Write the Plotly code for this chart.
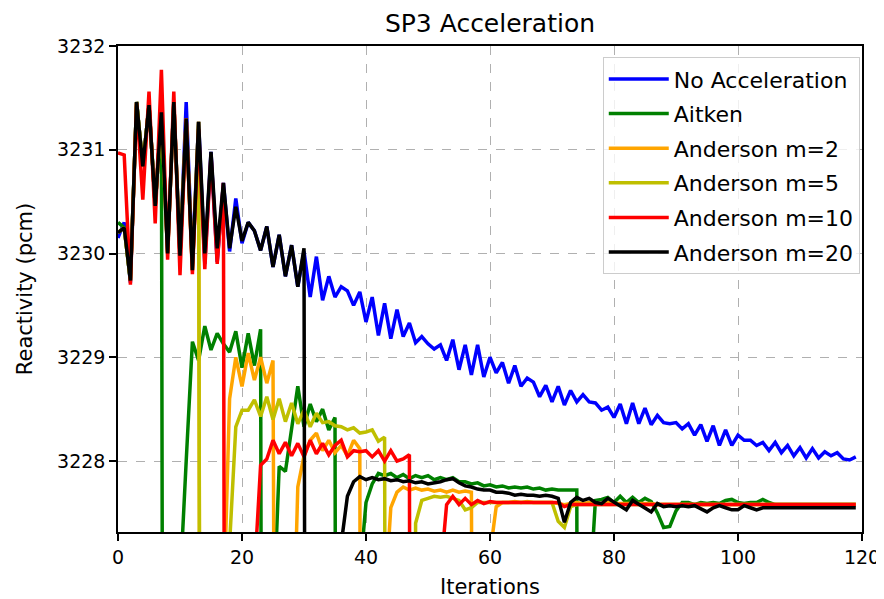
import plotly.graph_objects as go

iterations = list(range(120))

no_accel = [
    3230.15, 3230.30, 3229.72, 3231.46, 3230.84, 3231.43, 3230.46, 3231.38, 3230.02, 3231.46,
    3229.98, 3231.46, 3229.90, 3231.27, 3229.90, 3230.98, 3229.92, 3230.68, 3230.02, 3230.53,
    3230.10, 3230.30, 3230.22, 3230.03, 3230.26, 3229.87, 3230.18, 3229.78, 3230.08, 3229.68,
    3230.02, 3229.58, 3229.97, 3229.55, 3229.78, 3229.58, 3229.68, 3229.64, 3229.50, 3229.63,
    3229.34, 3229.58, 3229.21, 3229.52, 3229.18, 3229.46, 3229.20, 3229.33, 3229.14, 3229.20,
    3229.13, 3229.08, 3229.12, 3228.97, 3229.17, 3228.88, 3229.12, 3228.83, 3229.12, 3228.81,
    3229.00, 3228.85, 3228.95, 3228.75, 3228.92, 3228.72, 3228.80, 3228.76, 3228.62, 3228.73,
    3228.57, 3228.72, 3228.54, 3228.68, 3228.57, 3228.64, 3228.57, 3228.56, 3228.49, 3228.52,
    3228.42, 3228.55, 3228.36, 3228.56, 3228.36, 3228.51, 3228.35, 3228.44, 3228.37, 3228.36,
    3228.37, 3228.31, 3228.36, 3228.25, 3228.35, 3228.19, 3228.34, 3228.15, 3228.30, 3228.15,
    3228.25, 3228.20, 3228.20, 3228.15, 3228.18, 3228.10, 3228.18, 3228.08, 3228.15, 3228.05,
    3228.13, 3228.03, 3228.12, 3228.03, 3228.09, 3228.05, 3228.08, 3228.02, 3228.01, 3228.04,
]

aitken = [
    3230.30, 3230.25, 3229.74, 3231.46, 3230.84, 3231.43, 3230.46, 3231.36, 3200.00, 3200.00,
    3226.80, 3228.00, 3229.15, 3228.97, 3229.30, 3229.07, 3229.23, 3229.13, 3229.05, 3229.25,
    3228.90, 3229.23, 3228.92, 3229.27, 3200.00, 3226.40, 3227.95, 3227.90, 3228.30, 3228.72,
    3228.33, 3228.55, 3228.38, 3228.50, 3228.30, 3228.42, 3200.00, 3200.00, 3200.00, 3226.90,
    3227.60, 3227.78, 3227.88, 3227.86, 3227.88, 3227.84, 3227.87, 3227.83, 3227.86, 3227.84,
    3227.86, 3227.82, 3227.84, 3227.82, 3227.84, 3227.80, 3227.80, 3227.78, 3227.79, 3227.76,
    3227.77, 3227.75, 3227.76, 3227.74, 3227.75, 3227.74, 3227.75, 3227.73, 3227.74, 3227.72,
    3227.73, 3227.72, 3227.72, 3227.72, 3227.72, 3200.00, 3226.62, 3227.62, 3227.63, 3227.65,
    3227.60, 3227.66, 3227.60, 3227.65, 3227.60, 3227.64, 3227.61, 3227.50, 3227.36, 3227.37,
    3227.52, 3227.60, 3227.60, 3227.58, 3227.60, 3227.59, 3227.60, 3227.59, 3227.62, 3227.63,
    3227.60, 3227.59, 3227.60, 3227.60, 3227.63, 3227.60, 3227.58, 3227.58, 3227.58, 3227.58,
    3227.58, 3227.58, 3227.58, 3227.58, 3227.58, 3227.58, 3227.58, 3227.58, 3227.58, 3227.58,
]

anderson_m2 = [
    3230.20, 3230.25, 3229.74, 3231.46, 3230.84, 3231.43, 3230.46, 3231.36, 3230.00, 3231.46,
    3229.98, 3231.30, 3229.84, 3231.27, 3200.00, 3200.00, 3200.00, 3226.50, 3228.60, 3229.00,
    3228.72, 3229.04, 3228.78, 3229.00, 3228.75, 3228.97, 3200.00, 3200.00, 3225.60, 3227.75,
    3228.05, 3228.20, 3228.27, 3228.10, 3228.20, 3228.08, 3228.15, 3228.05, 3228.20, 3228.12,
    3200.00, 3200.00, 3200.00, 3226.60, 3227.55, 3227.70, 3227.75, 3227.72, 3227.74, 3227.72,
    3227.73, 3227.71, 3227.72, 3227.70, 3227.72, 3227.70, 3227.71, 3227.70, 3200.00, 3200.00,
    3227.10, 3227.56, 3227.60, 3227.60, 3227.61, 3227.60, 3227.61, 3227.60, 3227.60, 3227.60,
    3227.60, 3227.59, 3227.58, 3227.59, 3227.60, 3227.59, 3227.60, 3227.59, 3227.59, 3227.60,
    3227.59, 3227.59, 3227.59, 3227.59, 3227.59, 3227.59, 3227.59, 3227.58, 3227.58, 3227.58,
    3227.58, 3227.58, 3227.58, 3227.58, 3227.58, 3227.58, 3227.58, 3227.58, 3227.58, 3227.58,
    3227.58, 3227.58, 3227.58, 3227.58, 3227.58, 3227.58, 3227.58, 3227.58, 3227.58, 3227.58,
    3227.58, 3227.58, 3227.58, 3227.58, 3227.58, 3227.58, 3227.58, 3227.58, 3227.58, 3227.58,
]

anderson_m5 = [
    3230.20, 3230.25, 3229.74, 3231.46, 3230.84, 3231.43, 3230.46, 3231.36, 3230.00, 3231.46,
    3229.98, 3231.30, 3229.84, 3231.27, 3200.00, 3200.00, 3200.00, 3200.00, 3227.20, 3228.33,
    3228.49, 3228.49, 3228.59, 3228.43, 3228.62, 3228.40, 3228.60, 3228.38, 3228.56, 3228.36,
    3228.49, 3228.33, 3228.46, 3228.37, 3228.38, 3228.34, 3228.33, 3228.30, 3228.32, 3228.27,
    3228.28, 3228.30, 3228.19, 3228.23, 3200.00, 3200.00, 3200.00, 3200.00, 3227.40, 3227.62,
    3227.64, 3227.66, 3227.65, 3227.66, 3227.64, 3227.62, 3227.53, 3227.55, 3227.60, 3227.60,
    3227.60, 3227.60, 3227.60, 3227.60, 3227.60, 3227.60, 3227.60, 3227.60, 3227.60, 3227.60,
    3227.60, 3227.42, 3227.36, 3227.56, 3227.58, 3227.58, 3227.58, 3227.58, 3227.58, 3227.58,
    3227.58, 3227.58, 3227.58, 3227.58, 3227.58, 3227.58, 3227.58, 3227.58, 3227.58, 3227.58,
    3227.58, 3227.58, 3227.58, 3227.58, 3227.58, 3227.58, 3227.58, 3227.58, 3227.58, 3227.58,
    3227.58, 3227.58, 3227.58, 3227.58, 3227.58, 3227.58, 3227.58, 3227.58, 3227.58, 3227.58,
    3227.58, 3227.58, 3227.58, 3227.58, 3227.58, 3227.58, 3227.58, 3227.58, 3227.58, 3227.58,
]

anderson_m10 = [
    3230.97, 3230.95, 3229.70, 3231.45, 3230.52, 3231.56, 3230.29, 3231.77, 3229.94, 3231.56,
    3229.79, 3231.30, 3229.80, 3231.20, 3229.85, 3230.95, 3229.90, 3230.68, 3200.00, 3200.00,
    3200.00, 3200.00, 3226.90, 3227.96, 3228.02, 3228.20, 3228.07, 3228.18, 3228.05, 3228.17,
    3228.04, 3228.20, 3228.07, 3228.17, 3228.06, 3228.15, 3228.20, 3228.04, 3228.10, 3228.09,
    3228.10, 3228.04, 3228.10, 3228.00, 3228.10, 3228.00, 3228.02, 3228.06, 3200.00, 3200.00,
    3200.00, 3200.00, 3226.90, 3227.58, 3227.66, 3227.58, 3227.64, 3227.58, 3227.62, 3227.59,
    3227.61, 3227.60, 3227.60, 3227.60, 3227.60, 3227.60, 3227.60, 3227.60, 3227.60, 3227.60,
    3227.60, 3227.60, 3227.56, 3227.58, 3227.58, 3227.58, 3227.58, 3227.58, 3227.58, 3227.58,
    3227.58, 3227.58, 3227.58, 3227.58, 3227.58, 3227.58, 3227.58, 3227.58, 3227.58, 3227.58,
    3227.58, 3227.58, 3227.58, 3227.58, 3227.58, 3227.58, 3227.58, 3227.58, 3227.58, 3227.58,
    3227.58, 3227.58, 3227.58, 3227.58, 3227.58, 3227.58, 3227.58, 3227.58, 3227.58, 3227.58,
    3227.58, 3227.58, 3227.58, 3227.58, 3227.58, 3227.58, 3227.58, 3227.58, 3227.58, 3227.58,
]

anderson_m20 = [
    3230.20, 3230.25, 3229.74, 3231.46, 3230.84, 3231.43, 3230.46, 3231.36, 3230.00, 3231.46,
    3229.98, 3231.30, 3229.84, 3231.27, 3230.00, 3230.98, 3230.05, 3230.68, 3230.05, 3230.45,
    3230.12, 3230.30, 3230.22, 3230.03, 3230.26, 3229.87, 3230.18, 3229.78, 3230.08, 3229.68,
    3230.05, 3200.00, 3200.00, 3200.00, 3200.00, 3200.00, 3227.20, 3227.66, 3227.80, 3227.85,
    3227.82, 3227.84, 3227.82, 3227.83, 3227.81, 3227.82, 3227.80, 3227.81, 3227.79, 3227.80,
    3227.78, 3227.79, 3227.80, 3227.82, 3227.83, 3227.79, 3227.76, 3227.75, 3227.73, 3227.72,
    3227.72, 3227.70, 3227.70, 3227.69, 3227.67, 3227.68, 3227.67, 3227.67, 3227.66, 3227.67,
    3227.66, 3227.64, 3227.41, 3227.60, 3227.65, 3227.62, 3227.64, 3227.60, 3227.59, 3227.64,
    3227.60, 3227.56, 3227.53, 3227.62, 3227.58, 3227.55, 3227.51, 3227.59, 3227.56, 3227.57,
    3227.56, 3227.57, 3227.56, 3227.57, 3227.54, 3227.51, 3227.55, 3227.57, 3227.55, 3227.53,
    3227.53, 3227.57, 3227.55, 3227.53, 3227.55, 3227.55, 3227.55, 3227.55, 3227.55, 3227.55,
    3227.55, 3227.55, 3227.55, 3227.55, 3227.55, 3227.55, 3227.55, 3227.55, 3227.55, 3227.55,
]

series_names = ["No Acceleration", "Aitken", "Anderson m=2", "Anderson m=5",
                "Anderson m=10", "Anderson m=20"]
series_values = [no_accel, aitken, anderson_m2, anderson_m5, anderson_m10, anderson_m20]
series_colors = ["#0000ff", "#008000", "#ffa500", "#bfbf00", "#ff0000", "#000000"]

x_ticks = [0, 20, 40, 60, 80, 100, 120]
y_ticks = [3228, 3229, 3230, 3231, 3232]
y_tick_labels = ["3228", "3229", "3230", "3231", "3232"]

fig = go.Figure()
for name, vals, color in zip(series_names, series_values, series_colors):
    fig.add_trace(go.Scatter(x=iterations, y=vals, mode="lines", name=name,
                             legendgroup=name,
                             line=dict(color=color, width=3.5)))

axis_common = dict(
    showgrid=True, gridcolor="#b0b0b0", griddash="dash", gridwidth=1,
    showline=True, mirror=True, linecolor="black", linewidth=1.5,
    ticks="outside", ticklen=7, tickwidth=1.5, tickcolor="black",
    zeroline=False, automargin=False, ticklabeloverflow="allow",
    tickfont=dict(size=19, color="black"),
)

# the page body keeps an 8 px margin, so the figure is offset by 8 px
fig.update_layout(
    width=876, height=591,
    margin=dict(l=110, r=22, t=38, b=67, autoexpand=False),
    paper_bgcolor="white", plot_bgcolor="white",
    font=dict(family="DejaVu Sans", size=20, color="black"),
    title=dict(text="SP3 Acceleration", x=482 / 876, xanchor="center", xref="container",
               y=1 - 15 / 591, yanchor="middle", yref="container",
               font=dict(size=25, color="black")),
    xaxis=dict(range=[0, 120], tickvals=x_ticks,
               title=dict(text="Iterations", standoff=15, font=dict(size=21)),
               **axis_common),
    yaxis=dict(range=[3227.316, 3232], tickvals=y_ticks, ticktext=y_tick_labels,
               title=dict(text="Reactivity (pcm)", standoff=19, font=dict(size=21)),
               **axis_common),
    legend=dict(x=0.997, y=0.977, xanchor="right", yanchor="top",
                bgcolor="rgba(255,255,255,0.8)", bordercolor="#cccccc", borderwidth=1,
                font=dict(size=22, color="black"), tracegroupgap=3,
                itemwidth=60),
    showlegend=True,
)

fig.write_html("out.html")
